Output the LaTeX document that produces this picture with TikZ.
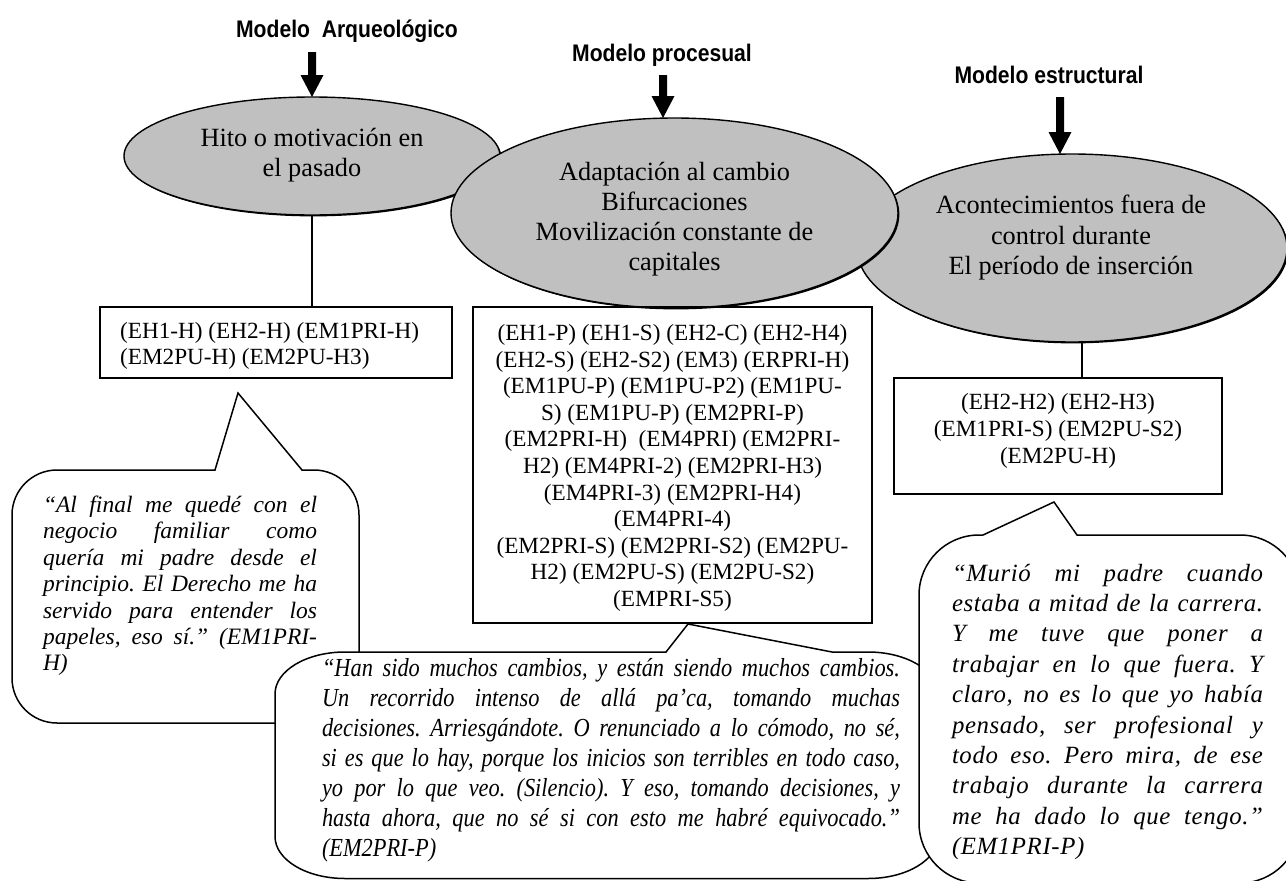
\documentclass[tikz,border=0pt]{standalone}
\usepackage{fontspec}
\setmainfont{Liberation Serif}
\newfontfamily\headfont[FakeStretch=0.88]{Liberation Sans}
\newfontfamily\condserif[FakeStretch=0.86]{Liberation Serif}
\newfontfamily\spacedserif[LetterSpace=2.5]{Liberation Serif}
\usetikzlibrary{shapes.geometric,calc,shadows}
\definecolor{ovalgray}{RGB}{192,192,192}
\frenchspacing

% thick block arrow from a start coordinate down to a tip coordinate
\newcommand{\blockarrow}[2]{%
  \fill ($(#1)+(-4,0)$) -- ($(#1)+(4,0)$) -- ($(#2)+(4,-22)$) -- ($(#2)+(11.5,-22)$)
    -- (#2) -- ($(#2)+(-11.5,-22)$) -- ($(#2)+(-4,-22)$) -- cycle;}

\tikzset{
  header/.style={font=\headfont\bfseries\fontsize{24}{28}\selectfont, inner sep=0},
  oval/.style={ellipse, draw, line width=1.4pt, fill=ovalgray, inner sep=0, outer sep=0,
    general shadow={fill=black, shadow xshift=1.4pt, shadow yshift=-1.4pt}},
  ovaltext/.style={font=\fontsize{26.3}{30}\selectfont, align=center, inner sep=0},
  codebox/.style={draw, line width=1.3pt, inner sep=0, outer sep=0},
  codetext/.style={font=\fontsize{23.2}{26.6}\selectfont, inner sep=0},
  bubble/.style={draw, fill=white, line width=1.5pt, line join=miter},
  quotetext/.style={align=left, inner sep=0},
  link/.style={line width=1.2pt},
}

\begin{document}
\begin{tikzpicture}[x=1pt,y=-1pt]
\useasboundingbox (0,0) rectangle (1286,881);

% ---- ovals (the middle one lies over its neighbours)
\node[oval, minimum width=376pt, minimum height=118pt] (e1) at (312,156) {};
\node[oval, minimum width=430pt, minimum height=188pt] (e3) at (1072,248) {};
\node[oval, minimum width=447pt, minimum height=190pt] (e2) at (674.5,213) {};

\node[ovaltext] (t1) at (312,155) {Hito o motivación en\\el pasado};
\node[ovaltext] (t2) at (674.5,219) {Adaptación al cambio\\Bifurcaciones\\Movilización constante de\\capitales};
\node[ovaltext, font=\fontsize{26.3}{30.5}\selectfont] (t3) at (1071,238) {Acontecimientos fuera de\\control durante\\El período de inserción};

% ---- model headings and their arrows
\node[header] (h1) at (347,31) {Modelo\ \ Arqueológico};
\node[header] (h2) at (662,55.5) {Modelo procesual};
\node[header] (h3) at (1049,75) {Modelo estructural};

\coordinate (a1) at (312,52);
\blockarrow{a1}{e1.north}
\coordinate (a2) at (663,75);
\coordinate (a2t) at (a2 |- e2.north);
\blockarrow{a2}{a2t}
\coordinate (a3) at (1060,97);
\coordinate (a3t) at (a3 |- e3.north);
\blockarrow{a3}{a3t}

% ---- interview code boxes
\node[codebox, minimum width=352pt, minimum height=71pt] (b1) at (276,342.5) {};
\node[codebox, minimum width=399pt, minimum height=316pt] (b2) at (672.5,465) {};
\node[codebox, minimum width=328pt, minimum height=116pt] (b3) at (1058,436) {};

\node[codetext, anchor=west, align=left] (c1) at (120,346) {(EH1-H) (EH2-H) (EM1PRI-H)\\(EM2PU-H) (EM2PU-H3)};
\node[codetext, align=center] (c2) at (672.5,468) {(EH1-P) (EH1-S) (EH2-C) (EH2-H4)\\(EH2-S) (EH2-S2) (EM3) (ERPRI-H)\\(EM1PU-P) (EM1PU-P2) (EM1PU-\\S) (EM1PU-P) (EM2PRI-P)\\(EM2PRI-H)\ \ (EM4PRI) (EM2PRI-\\H2) (EM4PRI-2) (EM2PRI-H3)\\(EM4PRI-3) (EM2PRI-H4)\\(EM4PRI-4)\\(EM2PRI-S) (EM2PRI-S2) (EM2PU-\\H2) (EM2PU-S) (EM2PU-S2)\\(EMPRI-S5)};
\node[codetext, align=center] (c3) at (1058,431) {(EH2-H2) (EH2-H3)\\(EM1PRI-S) (EM2PU-S2)\\(EM2PU-H)};

% ---- links from ovals to boxes
\draw[link] (e1.south) -- (e1.south |- b1.north);
\coordinate (l3) at (1082,0);
\draw[link] (e3.south -| l3) -- (b3.north -| l3);

% ---- speech bubbles
\draw[bubble] (12,515) .. controls (12,490.15) and (32.15,470) .. (57,470) -- (215,470)
  -- (238,393) -- (302,470) -- (314,470) .. controls (338.85,470) and (359,490.15) .. (359,515)
  -- (359,678) .. controls (359,702.85) and (338.85,723) .. (314,723) -- (57,723)
  .. controls (32.15,723) and (12,702.85) .. (12,678) -- cycle;
\node[quotetext, font=\itshape\fontsize{23.5}{26.4}\selectfont] (q1) at (180,586) {%
\makebox[274pt][s]{“Al final me quedé con el}\\
\makebox[274pt][s]{negocio familiar como}\\
\makebox[274pt][s]{quería mi padre desde el}\\
\makebox[274pt][s]{principio. El Derecho me ha}\\
\makebox[274pt][s]{servido para entender los}\\
\makebox[274pt][s]{papeles, eso sí.” (EM1PRI-}\\
\makebox[274pt][l]{H)}};

\draw[bubble] (275,694) .. controls (275,670.8) and (306.3,652) .. (345,652) -- (666,652)
  -- (688,624) -- (832,652) -- (868,652) .. controls (906.7,652) and (938,670.8) .. (938,694)
  -- (938,836.5) .. controls (938,859.7) and (906.7,878.5) .. (868,878.5) -- (345,878.5)
  .. controls (306.3,878.5) and (275,859.7) .. (275,836.5) -- cycle;
\node[quotetext, font=\condserif\itshape\fontsize{26}{30}\selectfont] (q2) at (611,760) {%
\makebox[578pt][s]{“Han sido muchos cambios, y están siendo muchos cambios.}\\
\makebox[578pt][s]{Un recorrido intenso de allá pa’ca, tomando muchas}\\
\makebox[578pt][s]{decisiones. Arriesgándote. O renunciado a lo cómodo, no sé,}\\
\makebox[578pt][s]{si es que lo hay, porque los inicios son terribles en todo caso,}\\
\makebox[578pt][s]{yo por lo que veo. (Silencio). Y eso, tomando decisiones, y}\\
\makebox[578pt][s]{hasta ahora, que no sé si con esto me habré equivocado.”}\\
\makebox[578pt][l]{(EM2PRI-P)}};

\draw[bubble] (919,595) .. controls (919,561.9) and (945.9,535) .. (979,535) -- (983,535)
  -- (1054,502) -- (1077,535) -- (1240,535) .. controls (1273.1,535) and (1300,561.9) .. (1300,595)
  -- (1300,823) .. controls (1300,856.1) and (1273.1,883) .. (1240,883) -- (979,883)
  .. controls (945.9,883) and (919,856.1) .. (919,823) -- cycle;
\node[quotetext, font=\spacedserif\itshape\fontsize{24.8}{30.4}\selectfont] (q3) at (1107.5,712) {%
\makebox[311pt][s]{“Murió mi padre cuando}\\
\makebox[311pt][s]{estaba a mitad de la carrera.}\\
\makebox[311pt][s]{Y me tuve que poner a}\\
\makebox[311pt][s]{trabajar en lo que fuera. Y}\\
\makebox[311pt][s]{claro, no es lo que yo había}\\
\makebox[311pt][s]{pensado, ser profesional y}\\
\makebox[311pt][s]{todo eso. Pero mira, de ese}\\
\makebox[311pt][s]{trabajo durante la carrera}\\
\makebox[311pt][s]{me ha dado lo que tengo.”}\\
\makebox[311pt][l]{(EM1PRI-P)}};
\end{tikzpicture}
\end{document}
